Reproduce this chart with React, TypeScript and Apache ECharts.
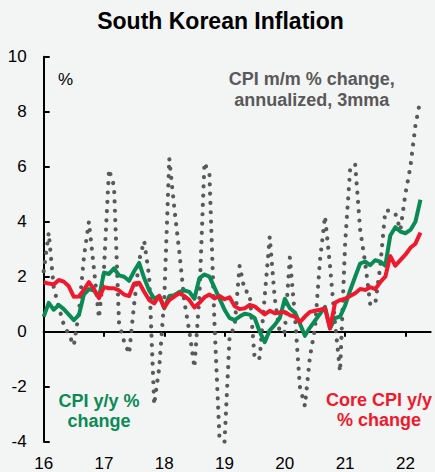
import React, { useEffect, useRef } from "react";
import * as echarts from "echarts";

// Monthly data, Jan 2016 .. Apr 2022
const START_YEAR = 2016;
const yearTicks = [2016, 2017, 2018, 2019, 2020, 2021, 2022];
const yearLabels = ["16", "17", "18", "19", "20", "21", "22"];

// CPI m/m % change, annualized, 3mma
const cpiMomAnn3mma = [
  2.2, 3.6, 1.6, 0.9, 0.25, -0.1, -0.5, 0.7, 2.7, 4.0, 2.3, 0.5,
  2.3, 5.9, 5.3, 0.3, -0.35, -0.8, 1.0, 2.6, 3.3, 2.0, -2.65, -1.3,
  1.2, 6.3, 4.5, 2.9, 1.1, 0.0, -1.3, 1.3, 6.15, 5.7, 0.3, -3.9,
  -4.0, -0.2, 0.2, 2.4, 1.5, 1.4, -1.0, -0.95, 1.3, 3.45, 1.2, -0.05,
  0.0, 2.7, 0.6, -2.0, -2.7, -0.9, 0.1, 2.6, 4.2, 2.4, 0.3, -1.45,
  3.2, 5.9, 6.1, 3.7, 2.5, 1.0, 1.0, 2.4, 4.4, 4.4, 4.3, 3.7,
  5.0, 6.0, 7.5, 8.45,
];

// CPI y/y % change
const cpiYoY = [
  0.55, 1.05, 0.8, 0.97, 0.82, 0.62, 0.42, 0.6, 1.35, 1.55, 1.5, 1.25,
  2.15, 2.1, 2.3, 2.05, 2.0, 1.85, 2.2, 2.5, 1.95, 1.5, 1.2, 1.3,
  0.85, 1.3, 1.33, 1.45, 1.5, 1.45, 1.2, 1.95, 2.08, 2.0, 1.6, 1.2,
  0.8, 0.5, 0.42, 0.55, 0.65, 0.62, 0.5, 0.0, -0.38, 0.05, 0.25, 0.5,
  1.2, 0.85, 0.7, 0.3, -0.15, 0.15, 0.4, 0.65, 0.9, 0.12, 0.5, 0.55,
  0.95, 1.5, 2.0, 2.48, 2.55, 2.42, 2.6, 2.55, 2.4, 3.5, 3.8, 3.64,
  3.58, 3.7, 4.0, 4.8,
];

// Core CPI y/y % change
const coreCpiYoY = [
  1.8, 1.75, 1.72, 1.88, 1.82, 1.65, 1.27, 1.28, 1.52, 1.8, 1.55, 1.22,
  1.62, 1.58, 1.58, 1.5, 1.35, 1.3, 1.75, 1.78, 1.45, 1.15, 1.03, 1.3,
  0.88, 1.15, 1.28, 1.4, 1.3, 1.15, 0.88, 1.05, 1.25, 1.35, 1.21, 1.3,
  1.18, 1.25, 0.93, 0.82, 0.85, 0.97, 0.92, 0.77, 0.63, 0.76, 0.67, 0.7,
  0.72, 0.6, 0.55, 0.35, 0.55, 0.72, 0.76, 0.8, 0.85, 0.12, 1.05, 1.15,
  1.2, 1.3, 1.4, 1.55, 1.52, 1.62, 1.55, 1.8, 2.0, 2.75, 2.4, 2.6,
  2.8, 3.05, 3.2, 3.6,
];

const yTicks = { min: -4, max: 10, interval: 2 };
const X_MAX = 2022.42;

const GREY = "#595959";
const GREEN = "#0a8a55";
const RED = "#f0182c";
const FONT = "'Liberation Sans', Arial, sans-serif";

const toXY = (vals: number[]) => vals.map((v, i) => [START_YEAR + i / 12, v]);

export default function App() {
  const ref = useRef<HTMLDivElement>(null);

  useEffect(() => {
    if (!ref.current) return;
    const chart = echarts.init(ref.current, undefined, { renderer: "svg" });
    const option: any = {
      animation: false,
      backgroundColor: "#f3f4f4",
      grid: { left: 43.7, right: 4.3, top: 56.7, bottom: 30.3, containLabel: false },
      xAxis: [
        {
          type: "value",
          min: START_YEAR,
          max: X_MAX,
          interval: 1,
          position: "bottom",
          axisLine: { show: false, onZero: false },
          axisTick: { show: false },
          splitLine: { show: false },
          axisLabel: {
            customValues: yearTicks,
            margin: 13,
            fontSize: 17,
            fontFamily: FONT,
            color: "#000",
            formatter: (v: number) => {
              const i = yearTicks.indexOf(Math.round(v * 1000) / 1000);
              return i >= 0 ? yearLabels[i] : "";
            },
          },
        },
        {
          type: "value",
          min: START_YEAR,
          max: X_MAX,
          interval: 1,
          position: "top",
          axisLine: { show: true, onZero: true, lineStyle: { color: "#000", width: 2 } },
          axisTick: {
            show: true,
            inside: true,
            length: 5,
            customValues: yearTicks,
            lineStyle: { color: "#000", width: 2 },
          },
          axisLabel: { show: false },
          splitLine: { show: false },
        },
      ],
      yAxis: {
        type: "value",
        min: yTicks.min,
        max: yTicks.max,
        interval: yTicks.interval,
        axisLine: { show: true, onZero: false, lineStyle: { color: "#000", width: 2 } },
        axisTick: { show: true, inside: true, length: 6, lineStyle: { color: "#000", width: 2 } },
        splitLine: { show: false },
        axisLabel: { margin: 17, fontSize: 17, fontFamily: FONT, color: "#000" },
      },
      series: [
        {
          name: "CPI m/m % change, annualized, 3mma",
          type: "line",
          data: toXY(cpiMomAnn3mma),
          showSymbol: false,
          symbol: "none",
          z: 1,
          lineStyle: { color: GREY, width: 4.2, type: [0.01, 9.3], cap: "round", join: "round" },
        },
        {
          name: "CPI y/y % change",
          type: "line",
          data: toXY(cpiYoY),
          showSymbol: false,
          symbol: "none",
          z: 2,
          lineStyle: { color: GREEN, width: 4, join: "round" },
        },
        {
          name: "Core CPI y/y % change",
          type: "line",
          data: toXY(coreCpiYoY),
          showSymbol: false,
          symbol: "none",
          z: 3,
          lineStyle: { color: RED, width: 4, join: "round" },
        },
      ],
      graphic: [
        {
          type: "text",
          x: 220.5,
          y: 21,
          style: {
            text: "South Korean Inflation",
            fontSize: 23,
            fontWeight: "bold",
            fontFamily: FONT,
            fill: "#000",
            align: "center",
            verticalAlign: "middle",
          },
        },
        {
          type: "text",
          x: 58,
          y: 79,
          style: {
            text: "%",
            fontSize: 17,
            fontFamily: FONT,
            fill: "#000",
            align: "left",
            verticalAlign: "middle",
          },
        },
        {
          type: "text",
          x: 311.7,
          y: 89.5,
          style: {
            text: "CPI m/m % change,\nannualized, 3mma",
            fontSize: 18,
            fontWeight: "bold",
            fontFamily: FONT,
            lineHeight: 20.7,
            fill: GREY,
            align: "center",
            verticalAlign: "middle",
          },
        },
        {
          type: "text",
          x: 99,
          y: 411.3,
          style: {
            text: "CPI y/y %\nchange",
            fontSize: 18,
            fontWeight: "bold",
            fontFamily: FONT,
            lineHeight: 20,
            fill: GREEN,
            align: "center",
            verticalAlign: "middle",
          },
        },
        {
          type: "text",
          x: 379,
          y: 410,
          style: {
            text: "Core CPI y/y\n% change",
            fontSize: 18,
            fontWeight: "bold",
            fontFamily: FONT,
            lineHeight: 20.7,
            fill: RED,
            align: "center",
            verticalAlign: "middle",
          },
        },
      ],
    };
    chart.setOption(option);
    return () => chart.dispose();
  }, []);

  return (
    <div
      ref={ref}
      style={{ position: "fixed", left: 0, top: 0, width: 435, height: 472 }}
    />
  );
}
